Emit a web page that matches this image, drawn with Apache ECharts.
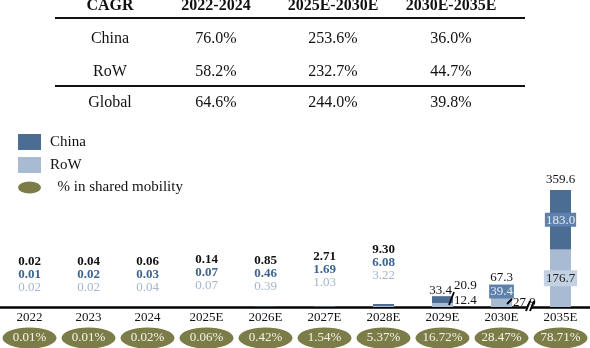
<!DOCTYPE html>
<html><head><meta charset="utf-8">
<script src="https://cdn.jsdelivr.net/npm/echarts@6/dist/echarts.min.js"></script>
<style>html,body{margin:0;padding:0;background:#fff}#c{width:590px;height:348px}</style>
</head><body><div id="c"></div>
<script>
// ---- data ----
const categories = ['2022','2023','2024','2025E','2026E','2027E','2028E','2029E','2030E','2035E'];
const chinaValues = [0.01,0.02,0.03,0.07,0.46,1.69,6.08,20.9,39.4,183.0];
const rowValues   = [0.02,0.02,0.04,0.07,0.39,1.03,3.22,12.4,27.9,176.7];
const totalValues = [0.02,0.04,0.06,0.14,0.85,2.71,9.30,33.4,67.3,359.6];
const sharedMobilityPct = [0.01,0.01,0.02,0.06,0.42,1.54,5.37,16.72,28.47,78.71];
const cagrHeader = ['CAGR','2022-2024','2025E-2030E','2030E-2035E'];
const cagrRegions = ['China','RoW','Global'];
const cagrChina  = ['76.0%','253.6%','36.0%'];
const cagrRoW    = ['58.2%','232.7%','44.7%'];
const cagrGlobal = ['64.6%','244.0%','39.8%'];

// ---- style ----
const FONT = '"Liberation Serif","Times New Roman",serif';
const C_CHINA = '#4b6d93', C_ROW = '#a8bbd2', C_OLIVE = '#7b7c48';
const C_CHINA_TXT = '#3d6491', C_ROW_TXT = '#a3b6cd';
const BAR_W = 21;
const FS = 13;
const topGap = [13,13,13,15,14,17,22,0,2,5];
const colX = [110,216,333,451];
const rowY = [6,39,72,103];

const fmt = v => v < 10 ? v.toFixed(2) : v.toFixed(1);

const chart = echarts.init(document.getElementById('c'));

const totalData = totalValues.map((v,i) => ({value: 0, label: {distance: topGap[i], offset: i===7?[-2,0]:[0,0]}}));
const rowData = rowValues.map((v,i) => {
  let label;
  if (i === 7) label = {position:'right', distance: 1, offset:[0,-12]};
  else if (i === 8) label = {position:'right', distance: 1, offset:[0,0]};
  else label = {position:'inside'};
  return {value: v, label};
});

const option = {
  animation: false,
  textStyle: {fontFamily: FONT},
  legend: {
    orient: 'vertical', left: 13, top: 129,
    itemWidth: 23, itemHeight: 16, itemGap: 7,
    selectedMode: false,
    textStyle: {fontFamily: FONT, fontSize: 15, color: '#111', padding: [0,0,0,4]},
    data: [
      {name: 'China', icon: 'rect'},
      {name: 'RoW', icon: 'rect'},
      {name: '% in shared mobility', icon: 'path://M0,6.5 A12.5,6.5 0 1,0 25,6.5 A12.5,6.5 0 1,0 0,6.5 Z'}
    ],
    formatter: name => name.startsWith('%') ? '  ' + name : name
  },
  grid: [
    {left: 0, right: 0, top: 190, bottom: 41},
    {left: 0, right: 0, top: 328, height: 20}
  ],
  xAxis: [
    {type: 'category', gridIndex: 0, data: categories,
     axisLine: {show: true, lineStyle: {color: '#000', width: 2.5}},
     axisTick: {show: false},
     axisLabel: {fontFamily: FONT, fontSize: FS, color: '#111', margin: 4}},
    {type: 'category', gridIndex: 1, data: categories, show: false}
  ],
  yAxis: [
    {type: 'value', gridIndex: 0, min: 0, max: 360, show: false, splitLine: {show: false}},
    {type: 'value', gridIndex: 1, min: -1, max: 1, show: false, splitLine: {show: false}}
  ],
  series: [
    {name: 'RoW', type: 'bar', stack: 'a', barWidth: BAR_W, data: rowData,
     itemStyle: {color: C_ROW},
     label: {show: true, fontFamily: FONT,
       formatter: p => {
         const i = p.dataIndex;
         if (i === 7) return `{k|${fmt(chinaValues[i])}}\n{k|${fmt(rowValues[i])}}`;
         if (i === 8) return `{k|${fmt(rowValues[i])}}`;
         if (i === 9) return `{w|${fmt(rowValues[i])}}`;
         return '';
       },
       rich: {
         k: {fontFamily: FONT, fontSize: FS, color: '#111', lineHeight: 15},
         w: {fontFamily: FONT, fontSize: FS, color: '#222', backgroundColor: '#c3d1e2', padding: [2,2,1,2]}
       }}},
    {name: 'China', type: 'bar', stack: 'a', barWidth: BAR_W, data: chinaValues,
     itemStyle: {color: C_CHINA},
     label: {show: true, position: 'inside', fontFamily: FONT,
       formatter: p => p.dataIndex >= 8 ? `{b|${fmt(chinaValues[p.dataIndex])}}` : '',
       rich: {
         b: {fontFamily: FONT, fontSize: FS, color: '#e6ecf4', backgroundColor: '#5d81aa', padding: [1,1,0,1]}
       }}},
    {name: 'Total', type: 'bar', stack: 'a', barWidth: BAR_W, data: totalData,
     itemStyle: {color: 'rgba(0,0,0,0)'},
     label: {show: true, position: 'top', fontFamily: FONT,
       formatter: p => {
         const i = p.dataIndex;
         if (i < 7) return `{t|${fmt(totalValues[i])}}\n{c|${fmt(chinaValues[i])}}\n{r|${fmt(rowValues[i])}}`;
         return `{n|${fmt(totalValues[i])}}`;
       },
       rich: {
         t: {fontFamily: FONT, fontSize: FS, fontWeight: 'bold', color: '#111', lineHeight: 13},
         c: {fontFamily: FONT, fontSize: FS, fontWeight: 'bold', color: C_CHINA_TXT, lineHeight: 13},
         r: {fontFamily: FONT, fontSize: FS, color: C_ROW_TXT, lineHeight: 13},
         n: {fontFamily: FONT, fontSize: FS, color: '#111', lineHeight: 12}
       }}},
    {name: '% in shared mobility', type: 'scatter', xAxisIndex: 1, yAxisIndex: 1,
     symbol: 'circle', symbolSize: [54, 21], symbolKeepAspect: false,
     itemStyle: {color: C_OLIVE, opacity: 1},
     data: sharedMobilityPct.map((v,i) => [categories[i], 0, v]),
     label: {show: true, position: 'inside', fontFamily: FONT, fontSize: FS, color: '#f6f4e8',
       formatter: p => p.value[2].toFixed(2) + '%'}}
  ]
};
chart.setOption(option);

// ---- table + decorations ----
const g = [];
const txt = (t, x, y, bold) => ({type: 'text', x, y, silent: true,
  style: {text: t, x: 0, y: 0, align: 'center', verticalAlign: 'middle', fill: '#111',
    font: (bold ? 'bold ' : '') + '16px ' + FONT}});
cagrHeader.forEach((h, j) => g.push(txt(h, colX[j], rowY[0], true)));
const rows = [cagrChina, cagrRoW, cagrGlobal];
cagrRegions.forEach((r, k) => {
  g.push(txt(r, colX[0], rowY[k+1], false));
  rows[k].forEach((v, j) => g.push(txt(v, colX[j+1], rowY[k+1], false)));
});
const hline = y => ({type: 'line', silent: true, shape: {x1: 55, y1: y, x2: 525, y2: y}, style: {stroke: '#111', lineWidth: 2}});
g.push(hline(18), hline(86));

const px = i => chart.convertToPixel({xAxisIndex: 0, yAxisIndex: 0}, [i, 0]);
const seg = (x1, y1, x2, y2, w) => ({type: 'line', silent: true, z: 100, shape: {x1, y1, x2, y2}, style: {stroke: '#000', lineWidth: w}});
// leader lines
const p7 = px(7), re7 = p7[0] + BAR_W/2;
g.push(seg(re7 - 4, p7[1] - 2, re7 + 1, p7[1] - 15, 1.8));
const p8 = px(8), re8 = p8[0] + BAR_W/2;
g.push(seg(re8 - 5, p8[1] - 3, re8, p8[1] - 8, 1.8));
// axis break marks
const mid = (px(8)[0] + px(9)[0]) / 2;
const y0 = px(9)[1];
g.push({type: 'rect', silent: true, z: 99, shape: {x: mid - 3, y: y0 - 2, width: 3, height: 4}, style: {fill: '#fff'}});
g.push(seg(mid - 5, y0 + 4, mid - 1, y0 - 6, 2));
g.push(seg(mid - 1, y0 + 4, mid + 3, y0 - 6, 2));
chart.setOption({graphic: g});
</script></body></html>
